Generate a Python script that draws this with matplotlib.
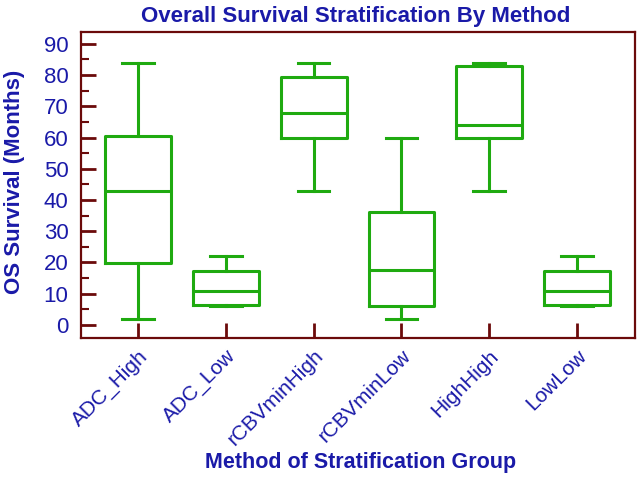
import matplotlib
matplotlib.use("Agg")
import matplotlib.pyplot as plt
from matplotlib.ticker import MultipleLocator

plt.rcParams['font.family'] = ['Liberation Sans', 'DejaVu Sans']

groups = ["ADC_High", "ADC_Low", "rCBVminHigh", "rCBVminLow", "HighHigh", "LowLow"]
whisker_low = [2, 6, 43, 2, 43, 6]
q1 = [19.8, 6.4, 60, 6.1, 60, 6.4]
median = [43, 10.7, 68, 17.6, 64, 10.7]
q3 = [60.5, 17.1, 79.3, 36, 83, 17.1]
whisker_high = [84, 22, 84, 60, 84, 22]

green = "#1faa10"
maroon = "#6b0a0a"
blue = "#1a1aa8"

stats = []
for i, g in enumerate(groups):
    stats.append(dict(label=g, whislo=whisker_low[i], q1=q1[i], med=median[i],
                      q3=q3[i], whishi=whisker_high[i], fliers=[]))

fig = plt.figure(figsize=(6.4, 4.78), dpi=100)
ax = fig.add_axes([81/640, 1 - 338/478, (635-81)/640, (338-32)/478])

line = dict(color=green, linewidth=2.2)
ax.bxp(stats, positions=range(1, 7), widths=0.75, showfliers=False,
       boxprops=line, whiskerprops=line, capprops=line, medianprops=line,
       capwidths=0.36)

ax.set_xlim(0.35, 6.66)
ax.set_ylim(-4.2, 93.8)
ax.yaxis.set_major_locator(MultipleLocator(10))
ax.yaxis.set_minor_locator(MultipleLocator(5))

for s in ax.spines.values():
    s.set_color(maroon)
    s.set_linewidth(1.6)

ax.tick_params(axis='both', which='major', direction='in', length=11, width=2,
               color=maroon, labelcolor=blue)
ax.tick_params(axis='y', which='major', labelsize=16, pad=9)
ax.tick_params(axis='x', which='major', labelsize=15, pad=6)
ax.tick_params(axis='y', which='minor', direction='in', length=6, width=1.5,
               color=maroon)
ax.tick_params(axis='x', which='minor', bottom=False)

ax.set_xticks(range(1, 7))
ax.set_xticklabels(groups, rotation=45, ha='right', rotation_mode='anchor')

fig.text(356/640, 1 - 22/478, "Overall Survival Stratification By Method",
         color=blue, fontsize=16, fontweight='bold', ha='center', va='baseline')
fig.text(361/640, 1 - 468/478, "Method of Stratification Group",
         color=blue, fontsize=15.5, fontweight='bold', ha='center', va='baseline')
fig.text(15/640, 1 - 182/478, "OS Survival (Months)", rotation=90,
         color=blue, fontsize=16, fontweight='bold', ha='center', va='center')

fig.savefig("out.png", dpi=100)
